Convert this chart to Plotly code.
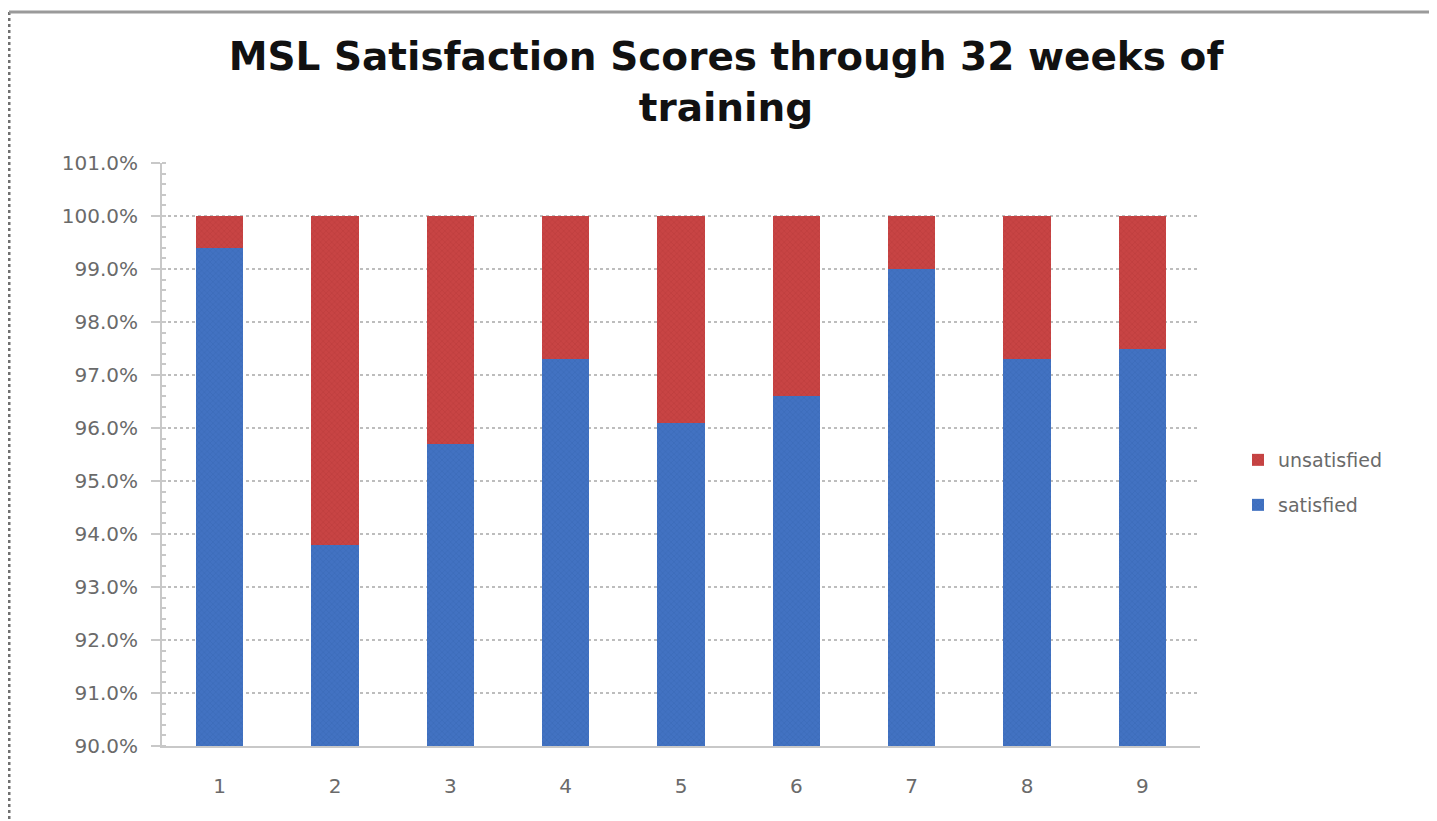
import plotly.graph_objects as go

categories = ["1", "2", "3", "4", "5", "6", "7", "8", "9"]
satisfied = [0.994, 0.938, 0.957, 0.973, 0.961, 0.966, 0.990, 0.973, 0.975]
unsatisfied = [0.006, 0.062, 0.043, 0.027, 0.039, 0.034, 0.010, 0.027, 0.025]
y_ticks = [0.90, 0.91, 0.92, 0.93, 0.94, 0.95, 0.96, 0.97, 0.98, 0.99, 1.00, 1.01]

BLUE = "#4272c2"
RED = "#c84444"

OFF = 8  # page body margin
W, H = 1437 - OFF, 821 - OFF
# target screen coordinates of plot area
SL, SR, ST, SB = 162, 1200, 163, 746
L, T = SL - OFF, ST - OFF
R, B = W - (SR - OFF), H - (SB - OFF)
PW, PH = W - L - R, H - T - B


def px(x):  # screen x -> paper
    return (x - OFF - L) / PW


def py(y):  # screen y -> paper
    return (H - B - (y - OFF)) / PH


fig = go.Figure()
fig.add_trace(go.Bar(
    x=categories, y=satisfied, name="satisfied", width=0.41,
    marker=dict(color=BLUE, line=dict(width=0),
                pattern=dict(shape="x", size=4, solidity=0.25, fgcolor="#2f5fa8", bgcolor=BLUE)),
    legend="legend2",
))
fig.add_trace(go.Bar(
    x=categories, y=unsatisfied, name="unsatisfied", width=0.41,
    marker=dict(color=RED, line=dict(width=0),
                pattern=dict(shape="x", size=4, solidity=0.25, fgcolor="#a83232", bgcolor=RED)),
    legend="legend",
))

fig.update_layout(
    width=W, height=H,
    barmode="stack",
    paper_bgcolor="white", plot_bgcolor="white",
    margin=dict(l=L, r=R, t=T, b=B, autoexpand=False),
    font=dict(family="DejaVu Sans", color="#6a6a6a", size=20),
    title=dict(
        text="<b>MSL Satisfaction Scores through 32 weeks of<br>training</b>",
        x=(726 - OFF) / W, xanchor="center", y=1 - (70 - OFF) / H, yanchor="top",
        font=dict(family="DejaVu Sans", size=39, color="#111111"),
    ),
    legend=dict(x=px(1238), y=py(460), xanchor="left", yanchor="middle",
                font=dict(size=19, color="#6a6a6a"), bgcolor="rgba(0,0,0,0)"),
    legend2=dict(x=px(1238), y=py(505), xanchor="left", yanchor="middle",
                 font=dict(size=19, color="#6a6a6a"), bgcolor="rgba(0,0,0,0)"),
    showlegend=True,
)

fig.update_yaxes(
    range=[0.90, 1.01], tickvals=y_ticks, tickformat=".1%",
    showgrid=True, gridcolor="#bdbdbd", griddash="dot", gridwidth=2,
    showline=True, linecolor="#c8c8c8", linewidth=2,
    ticks="outside", ticklen=9, tickcolor="#c8c8c8", tickwidth=2,
    ticklabelstandoff=9,
    minor=dict(ticks="inside", ticklen=4, tickcolor="#c8c8c8", dtick=0.002, showgrid=False),
    zeroline=False,
)
fig.update_xaxes(
    range=[-0.5, 8.5],
    showline=True, linecolor="#c8c8c8", linewidth=2,
    ticks="", showgrid=False, ticklabelstandoff=21,
)

# outer frame: dotted left border and solid top border
fig.add_shape(type="line", xref="paper", yref="paper",
              x0=px(OFF + 1), x1=px(OFF + 1), y0=py(12), y1=py(821),
              line=dict(color="#707070", width=3, dash="dot"))
fig.add_shape(type="line", xref="paper", yref="paper",
              x0=px(OFF + 1), x1=px(1437), y0=py(12), y1=py(12),
              line=dict(color="#9a9a9a", width=3))

fig.write_html("out.html")
